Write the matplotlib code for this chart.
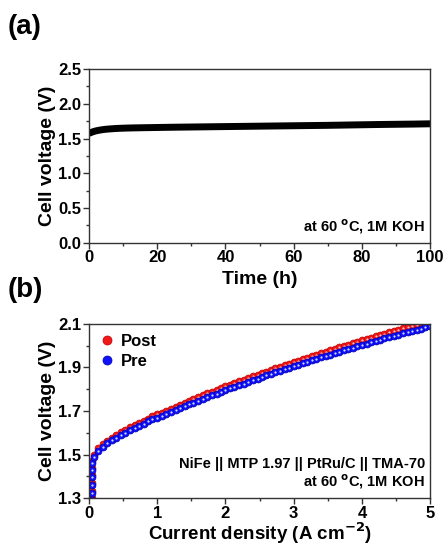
import matplotlib
matplotlib.use("Agg")
import matplotlib.pyplot as plt
from matplotlib.ticker import MultipleLocator, FormatStrFormatter

plt.rcParams['font.family'] = ['Liberation Sans', 'DejaVu Sans']
plt.rcParams['font.weight'] = 'bold'
plt.rcParams['mathtext.default'] = 'bf'

# ---------------- data (a): stability test ----------------
time_h = [0, 0.5, 1, 1.5, 2, 3, 4, 5, 6, 8, 10, 12, 15, 20, 25, 30, 35, 40, 45, 50,
          55, 60, 65, 70, 75, 80, 85, 90, 95, 100]
voltage_a = [1.575, 1.585, 1.595, 1.603, 1.61, 1.62, 1.628, 1.634, 1.638, 1.645, 1.649, 1.652,
             1.655, 1.659, 1.663, 1.666, 1.669, 1.672, 1.675, 1.678,
             1.681, 1.684, 1.687, 1.690, 1.694, 1.698, 1.702, 1.705, 1.708, 1.712]

# ---------------- data (b): polarization curves ----------------
j_pre = [0.04, 0.042, 0.044, 0.046, 0.048, 0.05, 0.07, 0.13, 0.2, 0.27, 0.33, 0.4, 0.47, 0.53,
         0.6, 0.67, 0.73, 0.8, 0.87, 0.93, 1.0, 1.07, 1.13, 1.2, 1.27, 1.33, 1.4, 1.47, 1.53,
         1.6, 1.67, 1.73, 1.8, 1.87, 1.93, 2.0, 2.07, 2.13, 2.2, 2.27, 2.33, 2.4, 2.47, 2.53,
         2.6, 2.67, 2.73, 2.8, 2.87, 2.93, 3.0, 3.07, 3.13, 3.2, 3.27, 3.33, 3.4, 3.47, 3.53,
         3.6, 3.67, 3.73, 3.8, 3.87, 3.93, 4.0, 4.07, 4.13, 4.2, 4.27, 4.33, 4.4, 4.47, 4.53,
         4.6, 4.67, 4.73, 4.8, 4.87, 4.93, 5.0]
v_pre = [1.29, 1.325, 1.36, 1.395, 1.43, 1.46, 1.49, 1.518, 1.536, 1.552, 1.565, 1.578, 1.59,
         1.601, 1.612, 1.622, 1.632, 1.642, 1.652, 1.661, 1.67, 1.679, 1.688, 1.697, 1.705,
         1.714, 1.722, 1.731, 1.739, 1.748, 1.756, 1.764, 1.772, 1.78, 1.788, 1.796, 1.804,
         1.811, 1.819, 1.826, 1.834, 1.841, 1.848, 1.856, 1.863, 1.87, 1.877, 1.884, 1.891,
         1.898, 1.905, 1.912, 1.919, 1.926, 1.932, 1.939, 1.946, 1.952, 1.959, 1.965, 1.972,
         1.978, 1.985, 1.991, 1.997, 2.003, 2.009, 2.015, 2.021, 2.027, 2.033, 2.039, 2.045,
         2.051, 2.056, 2.062, 2.067, 2.073, 2.078, 2.084, 2.089]
j_post = j_pre[:-2]
v_post = [1.30, 1.335, 1.37, 1.405, 1.44, 1.47, 1.50, 1.53, 1.548, 1.564, 1.578, 1.591, 1.603,
          1.614, 1.625, 1.635, 1.645, 1.655, 1.665, 1.675, 1.684, 1.693, 1.702, 1.711, 1.72,
          1.729, 1.738, 1.747, 1.755, 1.764, 1.772, 1.781, 1.789, 1.797, 1.805, 1.813, 1.821,
          1.829, 1.836, 1.844, 1.852, 1.859, 1.867, 1.874, 1.881, 1.889, 1.896, 1.903, 1.91,
          1.917, 1.924, 1.931, 1.938, 1.945, 1.952, 1.959, 1.965, 1.972, 1.979, 1.985, 1.992,
          1.998, 2.005, 2.011, 2.018, 2.024, 2.03, 2.037, 2.043, 2.049, 2.055, 2.061, 2.067,
          2.073, 2.079, 2.085, 2.091, 2.097, 2.103]

yticks_b = [1.3, 1.5, 1.7, 1.9, 2.1]

fig = plt.figure(figsize=(4.43, 5.48), dpi=100)
ax1 = fig.add_axes([0.201, 0.557, 0.770, 0.317])
ax2 = fig.add_axes([0.201, 0.091, 0.770, 0.318])

spine_col = '#333333'

# (a)
ax1.plot(time_h, voltage_a, color='black', lw=5.0, solid_capstyle='butt')
ax1.set_xlim(0, 100)
ax1.set_ylim(0, 2.5)
ax1.xaxis.set_major_locator(MultipleLocator(20))
ax1.xaxis.set_minor_locator(MultipleLocator(10))
ax1.yaxis.set_major_locator(MultipleLocator(0.5))
ax1.yaxis.set_minor_locator(MultipleLocator(0.25))
ax1.yaxis.set_major_formatter(FormatStrFormatter('%.1f'))
ax1.set_xlabel('Time (h)', fontsize=14, fontweight='bold', labelpad=4)
ax1.set_ylabel('Cell voltage (V)', fontsize=14, fontweight='bold', labelpad=2)
ax1.text(0.985, 0.04, r'at 60 $^{\mathbf{o}}$C, 1M KOH', transform=ax1.transAxes,
         ha='right', va='bottom', fontsize=10.5, fontweight='bold')

# (b)
ax2.plot(j_post, v_post, 'o', ms=5.0, mfc='#f01818', mec='#c00000', mew=0.5, ls='none',
         label='Post')
ax2.plot(j_post, v_post, 'o', ms=1.6, mfc='#ffc0c0', mec='none', ls='none')
ax2.plot(j_pre, v_pre, 'o', ms=5.0, mfc='#1010ff', mec='#0000b0', mew=0.5, ls='none',
         label='Pre')
ax2.plot(j_pre, v_pre, 'o', ms=1.6, mfc='#d0dcff', mec='none', ls='none')
ax2.set_xlim(0, 5)
ax2.set_ylim(1.3, 2.1)
ax2.xaxis.set_major_locator(MultipleLocator(1))
ax2.xaxis.set_minor_locator(MultipleLocator(0.5))
ax2.set_yticks(yticks_b)
ax2.yaxis.set_minor_locator(MultipleLocator(0.1))
ax2.yaxis.set_major_formatter(FormatStrFormatter('%.1f'))
ax2.set_xlabel(r'Current density (A cm$^{\mathbf{-2}}$)', fontsize=13.5, fontweight='bold', labelpad=0)
ax2.set_ylabel('Cell voltage (V)', fontsize=14, fontweight='bold', labelpad=2)
leg = ax2.legend(loc='upper left', frameon=False, fontsize=12, handletextpad=0.3,
                 borderaxespad=0.2, labelspacing=0.3, handlelength=1.0, markerscale=1.3)
for t in leg.get_texts():
    t.set_fontweight('bold')
ax2.text(0.985, 0.155, 'NiFe || MTP 1.97 || PtRu/C || TMA-70', transform=ax2.transAxes,
         ha='right', va='bottom', fontsize=10.5, fontweight='bold')
ax2.text(0.985, 0.04, r'at 60 $^{\mathbf{o}}$C, 1M KOH', transform=ax2.transAxes,
         ha='right', va='bottom', fontsize=10.5, fontweight='bold')

for ax in (ax1, ax2):
    for s in ax.spines.values():
        s.set_color(spine_col)
        s.set_linewidth(1.0)
    ax.tick_params(which='both', direction='out', top=False, right=False,
                   labelsize=12, width=1.0, color=spine_col, pad=1.5)
    ax.tick_params(which='major', length=4)
    ax.tick_params(which='minor', length=2.5)
    for lab in ax.get_xticklabels() + ax.get_yticklabels():
        lab.set_fontweight('bold')

fig.text(0.018, 0.950, '(a)', fontsize=20, fontweight='bold', va='center')
fig.text(0.018, 0.471, '(b)', fontsize=20, fontweight='bold', va='center')

fig.savefig('out.png', dpi=100)
